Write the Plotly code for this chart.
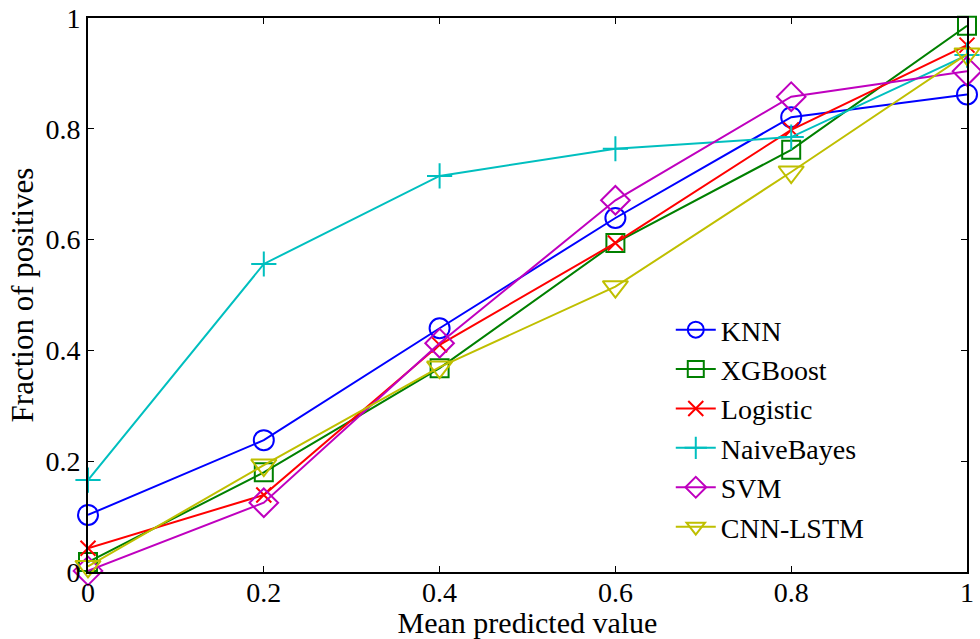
import plotly.graph_objects as go

x_vals = [0, 0.2, 0.4, 0.6, 0.8, 1.0]
knn = [0.103, 0.238, 0.440, 0.639, 0.821, 0.862]
xgboost = [0.018, 0.180, 0.368, 0.594, 0.762, 0.986]
logistic = [0.043, 0.139, 0.410, 0.594, 0.798, 0.951]
naivebayes = [0.166, 0.556, 0.715, 0.764, 0.785, 0.933]
svm = [0.002, 0.125, 0.413, 0.671, 0.858, 0.904]
cnnlstm = [0.010, 0.193, 0.370, 0.515, 0.722, 0.935]

series = [
    ("KNN", knn, "#0000FF", "circle-open", 20),
    ("XGBoost", xgboost, "#008000", "square-open", 18),
    ("Logistic", logistic, "#FF0000", "x-thin-open", 15),
    ("NaiveBayes", naivebayes, "#00BFBF", "cross-thin-open", 18),
    ("SVM", svm, "#BF00BF", "diamond-open", 22),
    ("CNN-LSTM", cnnlstm, "#BFBF00", "triangle-down-open", 22),
]

fig = go.Figure()
for name, ys, color, sym, size in series:
    fig.add_trace(go.Scatter(
        x=x_vals, y=ys, name=name, mode="lines+markers",
        line=dict(color=color, width=2),
        marker=dict(symbol=sym, size=size, color=color, line=dict(color=color, width=2)),
        cliponaxis=False,
    ))

font = "Liberation Serif, Times New Roman, serif"
fs = 28
fig.update_layout(
    width=980, height=639,
    margin=dict(l=88, r=13, t=18, b=67, autoexpand=False),
    paper_bgcolor="white", plot_bgcolor="white",
    font=dict(family=font, size=fs, color="black"),
    showlegend=True,
    legend=dict(x=0.663, y=0.482, xanchor="left", yanchor="top",
                bgcolor="rgba(0,0,0,0)", borderwidth=0,
                font=dict(family=font, size=28), itemwidth=40),
    xaxis=dict(range=[0, 1], tickvals=[0, 0.2, 0.4, 0.6, 0.8, 1.0],
               ticktext=["0", "0.2", "0.4", "0.6", "0.8", "1"],
               ticks="inside", ticklen=6, tickcolor="black", tickwidth=1,
               showline=True, linecolor="black", linewidth=2, mirror="ticks",
               showgrid=False, zeroline=False, automargin=False,
               ticklabeloverflow="allow", ticklabelstandoff=-6,
               title=dict(text="Mean predicted value", standoff=0,
                          font=dict(family=font, size=30)),
               tickfont=dict(family=font, size=fs)),
    yaxis=dict(range=[0, 1], tickvals=[0, 0.2, 0.4, 0.6, 0.8, 1.0],
               ticktext=["0", "0.2", "0.4", "0.6", "0.8", "1"],
               ticks="inside", ticklen=6, tickcolor="black", tickwidth=1,
               showline=True, linecolor="black", linewidth=2, mirror="ticks",
               showgrid=False, zeroline=False, automargin=False,
               ticklabeloverflow="allow",
               title=dict(text="Fraction of positives", standoff=3,
                          font=dict(family=font, size=31)),
               tickfont=dict(family=font, size=fs)),
)

fig.write_html("out.html", config={"displayModeBar": False},
               post_script="document.body.style.margin='0';")
